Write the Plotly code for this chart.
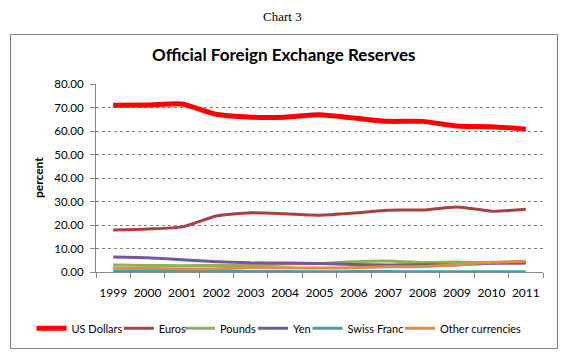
import plotly.graph_objects as go

years = ["1999", "2000", "2001", "2002", "2003", "2004", "2005", "2006", "2007", "2008", "2009", "2010", "2011"]
us_dollars = [71.0, 71.1, 71.5, 67.1, 65.9, 65.9, 66.9, 65.5, 64.1, 64.1, 62.1, 61.8, 60.8]
euros = [17.9, 18.3, 19.2, 23.8, 25.2, 24.8, 24.2, 25.1, 26.3, 26.4, 27.7, 25.9, 26.7]
pounds = [3.0, 2.8, 2.7, 2.8, 2.8, 3.4, 3.6, 4.4, 4.7, 4.0, 4.3, 3.9, 3.9]
yen = [6.4, 6.1, 5.2, 4.4, 3.9, 3.8, 3.6, 3.2, 3.0, 3.1, 3.0, 3.7, 3.8]
swiss_franc = [0.3, 0.3, 0.3, 0.4, 0.2, 0.2, 0.1, 0.2, 0.2, 0.1, 0.1, 0.1, 0.1]
other = [1.6, 1.5, 1.3, 1.4, 1.9, 1.8, 1.7, 1.8, 2.2, 2.3, 3.1, 4.1, 4.6]
y_ticks = [0, 10, 20, 30, 40, 50, 60, 70, 80]

series_names = ["US Dollars", "Euros", "Pounds", "Yen", "Swiss Franc", "Other currencies"]
series_values = [us_dollars, euros, pounds, yen, swiss_franc, other]
series_colors = ["#FF0000", "#A8423F", "#8FB155", "#73599A", "#4A9BAE", "#E58A45"]
series_widths = [5, 3, 3, 3, 3, 3]

FONT = "Lato, Calibri, sans-serif"

# The page body has an 8px default margin; the figure is sized/shifted to compensate.
OFF = 8
W, H = 571 - OFF, 364 - OFF
PL, PT, PW, PH = 96, 84, 447, 188          # plot area in window pixels


def px(X):
    return (X - PL) / PW


def py(Y):
    return (PT + PH - Y) / PH


legend_line_starts = [41, 128.3, 189.5, 262.5, 317, 409.5]
legend_y = 328.3

fig = go.Figure()
layout_legends = {}
for i, (name, vals, color, w) in enumerate(zip(series_names, series_values, series_colors, series_widths)):
    key = "legend" if i == 0 else f"legend{i + 1}"
    fig.add_trace(go.Scatter(
        x=years, y=vals, name=name, mode="lines", legend=key,
        line=dict(color=color, width=w, shape="spline", smoothing=0.6),
    ))
    layout_legends[key] = dict(
        orientation="h", xref="container", yref="container",
        x=(legend_line_starts[i] - 9.5 - OFF) / W, xanchor="left",
        y=(364 - legend_y) / H, yanchor="middle",
        font=dict(family=FONT, size=11, color="#000000"), itemwidth=30,
        bgcolor="rgba(0,0,0,0)", borderwidth=0,
    )

fig.update_layout(
    width=W, height=H,
    margin=dict(l=PL - OFF, r=W - (PL - OFF) - PW, t=PT - OFF, b=H - (PT - OFF) - PH, pad=0),
    paper_bgcolor="white", plot_bgcolor="white",
    font=dict(family=FONT, size=11, color="#000000"),
    showlegend=True,
    xaxis=dict(
        type="category", tickson="boundaries", range=[-0.5, 12.5], tickangle=0,
        showline=True, linecolor="#868686", linewidth=1,
        ticks="outside", ticklen=5, tickcolor="#868686", ticklabelstandoff=10,
        showgrid=False, tickfont=dict(family=FONT, size=12),
    ),
    yaxis=dict(
        range=[0, 80], tickvals=y_ticks, tickformat=".2f",
        showline=True, linecolor="#868686", linewidth=1,
        ticks="outside", ticklen=5, tickcolor="#868686", ticklabelstandoff=4,
        showgrid=True, gridcolor="#7F7F7F", griddash="dot", gridwidth=1,
        zeroline=False, tickfont=dict(family=FONT, size=11.5),
    ),
    shapes=[dict(type="rect", xref="paper", yref="paper",
                 x0=px(10.5), x1=px(557.5), y0=py(348.5), y1=py(34.5),
                 line=dict(color="#868686", width=1.2), fillcolor="rgba(0,0,0,0)", layer="below")],
    annotations=[
        dict(text="Chart 3", xref="paper", yref="paper",
             x=px(282), y=py(16.5), xanchor="center", yanchor="middle",
             showarrow=False, font=dict(family="Liberation Serif, Times New Roman, serif", size=13)),
        dict(text="<b>Official Foreign Exchange Reserves</b>", xref="paper", yref="paper",
             x=px(284), y=py(55), xanchor="center", yanchor="middle",
             showarrow=False, font=dict(family=FONT, size=17)),
        dict(text="<b>percent</b>", xref="paper", yref="paper", textangle=-90,
             x=px(38), y=py(178), xanchor="center", yanchor="middle",
             showarrow=False, font=dict(family=FONT, size=12)),
    ],
    **layout_legends,
)

fig.write_html("out.html")
